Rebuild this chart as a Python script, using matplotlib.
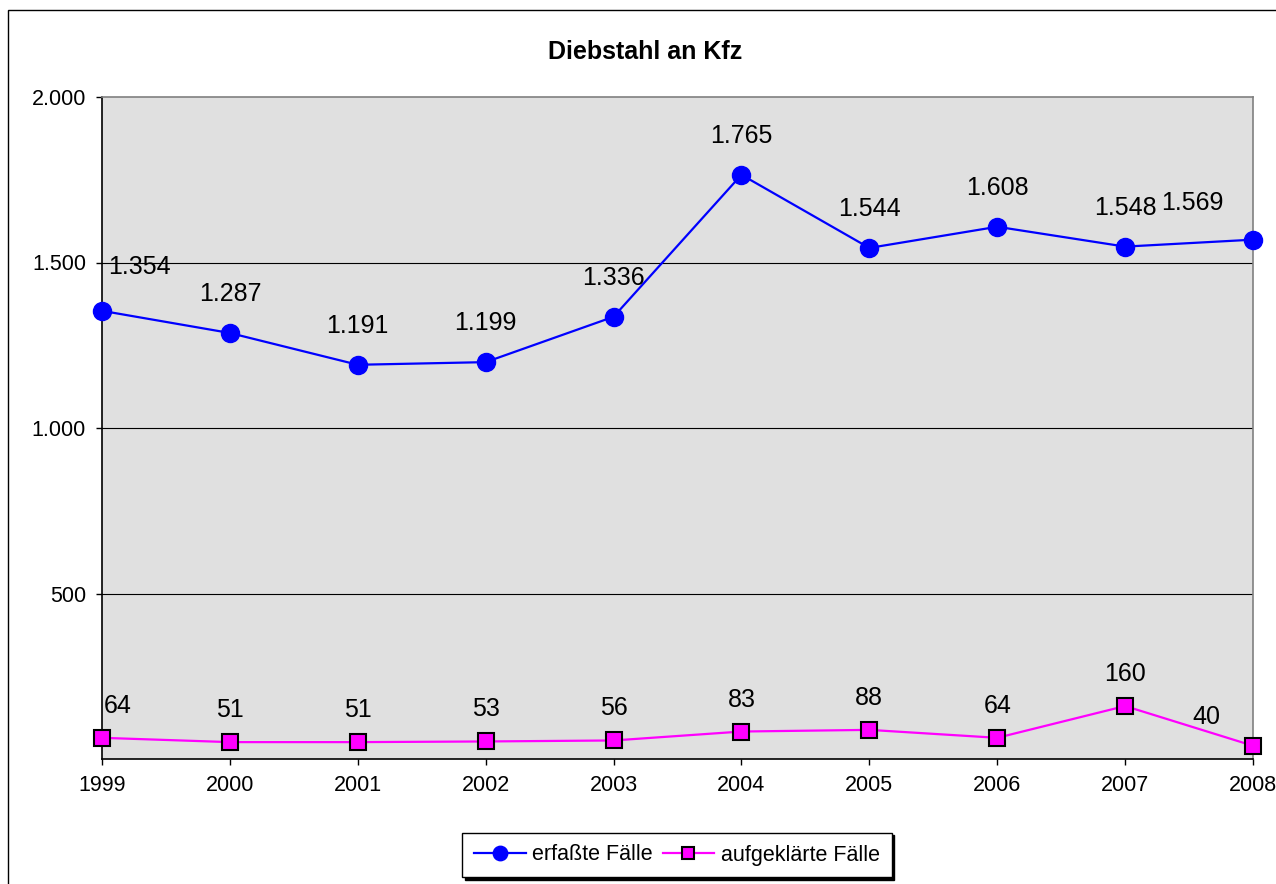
import matplotlib
matplotlib.use("Agg")
import matplotlib.pyplot as plt
from matplotlib.patches import Rectangle
from matplotlib.ticker import FuncFormatter

plt.rcParams['font.family'] = ['Liberation Sans', 'DejaVu Sans']

years = [1999, 2000, 2001, 2002, 2003, 2004, 2005, 2006, 2007, 2008]
erfasst = [1354, 1287, 1191, 1199, 1336, 1765, 1544, 1608, 1548, 1569]
aufgeklaert = [64, 51, 51, 53, 56, 83, 88, 64, 160, 40]
title = "Diebstahl an Kfz"
series_names = ["erfaßte Fälle", "aufgeklärte Fälle"]
yticks = [500, 1000, 1500, 2000]


def de_fmt(v):
    return f"{int(round(v)):,}".replace(",", ".")


W, H = 1276, 884
fig = plt.figure(figsize=(W / 100, H / 100), dpi=100)
fig.patch.set_facecolor('white')

# outer chart border (extends beyond the image at right/bottom)
fig.patches.append(Rectangle((8 / W, -0.1), 1.2, 1 - 10 / H + 0.1,
                             transform=fig.transFigure, fill=False,
                             edgecolor='black', linewidth=1.0))

ax = fig.add_axes([102 / W, 1 - 759 / H, (1253 - 102) / W, (759 - 97) / H])
ax.set_facecolor('#E0E0E0')
ax.set_xlim(1999, 2008)
ax.set_ylim(0, 2000)

ax.set_yticks(yticks)
ax.yaxis.set_major_formatter(FuncFormatter(lambda v, p: de_fmt(v)))
ax.set_xticks(years)
ax.set_xticklabels([str(y) for y in years])
ax.tick_params(axis='both', labelsize=15.5, direction='out', length=4.5,
               width=1, color='black')
ax.tick_params(axis='x', pad=7)
ax.tick_params(axis='y', pad=7)

for y in [500, 1000, 1500]:
    ax.axhline(y, color='black', linewidth=0.8, zorder=1)

ax.spines['left'].set_color('black')
ax.spines['bottom'].set_color('black')
ax.spines['top'].set_color('#808080')
ax.spines['right'].set_color('#808080')
for s in ax.spines.values():
    s.set_linewidth(1.2)

l1, = ax.plot(years, erfasst, color='#0000FF', linewidth=1.6, marker='o',
              markersize=13, markerfacecolor='#0000FF',
              markeredgecolor='#0000FF', clip_on=False, zorder=4,
              label=series_names[0])
l2, = ax.plot(years, aufgeklaert, color='#FF00FF', linewidth=1.6, marker='s',
              markersize=11, markerfacecolor='#FF00FF',
              markeredgecolor='black', markeredgewidth=1.5, clip_on=False,
              zorder=4, label=series_names[1])

n = len(years)


def label_series(vals, dy, first_off, last_off):
    for i, (x, v) in enumerate(zip(years, vals)):
        if i == 0:
            off, ha = first_off, 'left'
        elif i == n - 1:
            off, ha = last_off, 'right'
        else:
            off, ha = (0, dy), 'center'
        ax.annotate(de_fmt(v), (x, v), xytext=off, textcoords='offset pixels',
                    ha=ha, va='center', fontsize=18, color='black',
                    annotation_clip=False, zorder=5)


label_series(erfasst, 39, (6, 44), (-30, 37))
label_series(aufgeklaert, 32, (2, 32), (-33, 29))

fig.text(645 / W, 1 - 52 / H, title, ha='center', va='center',
         fontsize=18, fontweight='bold')

leg = fig.legend(handles=[l1, l2], loc='center',
                 bbox_to_anchor=(677 / W, 1 - 855 / H), ncol=2,
                 frameon=True, fancybox=False, fontsize=15.5,
                 handlelength=2.4, handletextpad=0.3, columnspacing=0.45,
                 borderpad=0.55, borderaxespad=0, markerscale=0.8,
                 shadow={'color': 'black', 'alpha': 1})
leg.get_frame().set_edgecolor('black')
leg.get_frame().set_linewidth(1.0)

fig.savefig('out.png', dpi=100, facecolor='white')
